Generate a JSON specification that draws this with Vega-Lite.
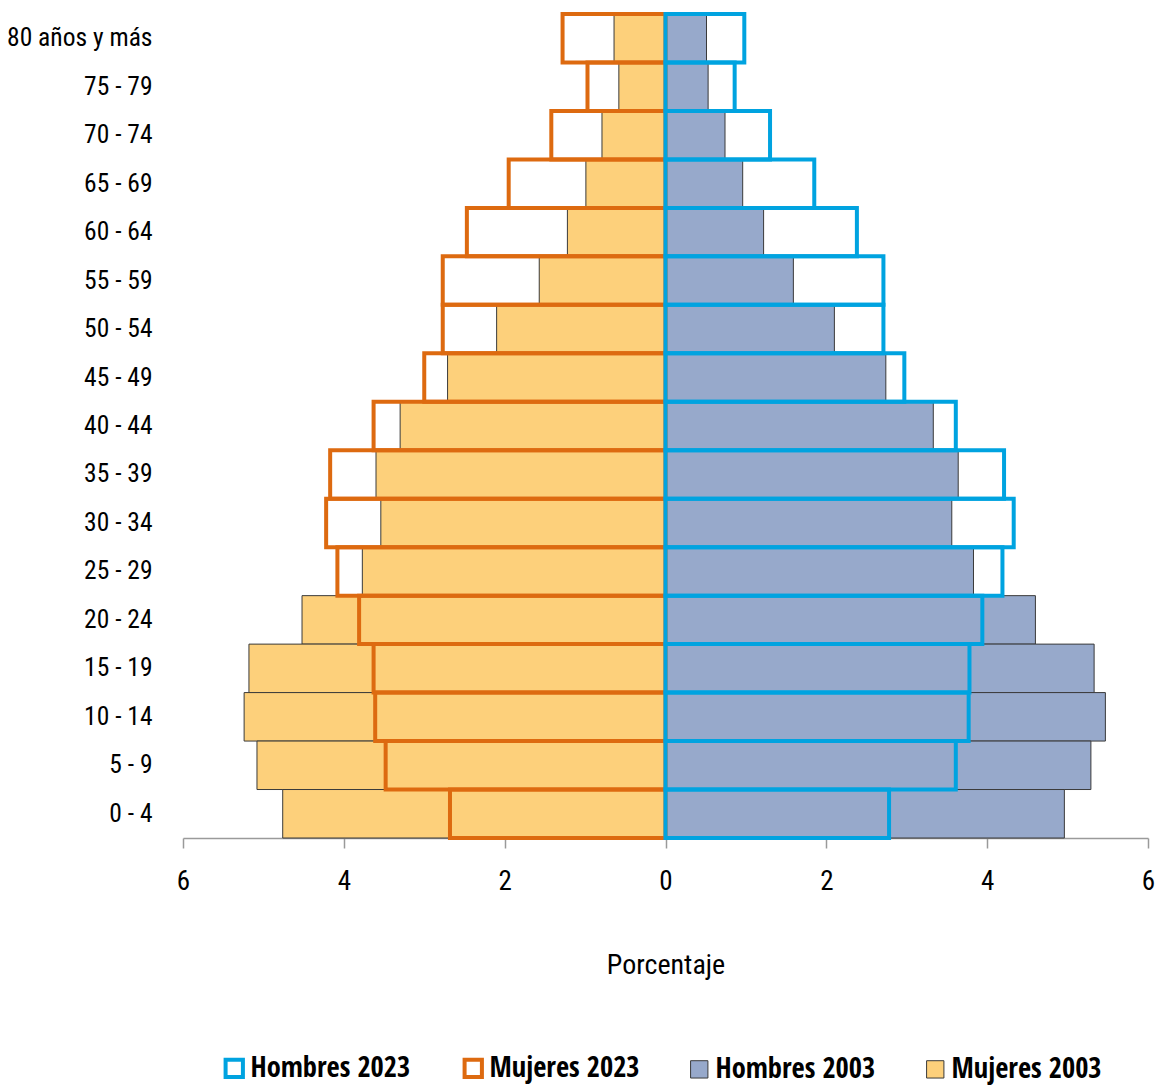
{
  "$schema": "https://vega.github.io/schema/vega-lite/v6.json",
  "width": 965,
  "height": 824,
  "autosize": {"type": "none"},
  "padding": {"left": 183, "top": 14, "right": 12, "bottom": 249},
  "background": "white",
  "config": {
    "view": {"stroke": null},
    "font": "Roboto Condensed, DejaVu Sans Condensed, sans-serif"
  },
  "data": {
    "values": [
      {"edad": "80 años y más", "serie": "Hombres 2003", "valor": 0.51},
      {"edad": "75 - 79", "serie": "Hombres 2003", "valor": 0.53},
      {"edad": "70 - 74", "serie": "Hombres 2003", "valor": 0.74},
      {"edad": "65 - 69", "serie": "Hombres 2003", "valor": 0.96},
      {"edad": "60 - 64", "serie": "Hombres 2003", "valor": 1.22},
      {"edad": "55 - 59", "serie": "Hombres 2003", "valor": 1.59},
      {"edad": "50 - 54", "serie": "Hombres 2003", "valor": 2.10},
      {"edad": "45 - 49", "serie": "Hombres 2003", "valor": 2.74},
      {"edad": "40 - 44", "serie": "Hombres 2003", "valor": 3.33},
      {"edad": "35 - 39", "serie": "Hombres 2003", "valor": 3.64},
      {"edad": "30 - 34", "serie": "Hombres 2003", "valor": 3.56},
      {"edad": "25 - 29", "serie": "Hombres 2003", "valor": 3.83},
      {"edad": "20 - 24", "serie": "Hombres 2003", "valor": 4.60},
      {"edad": "15 - 19", "serie": "Hombres 2003", "valor": 5.33},
      {"edad": "10 - 14", "serie": "Hombres 2003", "valor": 5.47},
      {"edad": "5 - 9", "serie": "Hombres 2003", "valor": 5.29},
      {"edad": "0 - 4", "serie": "Hombres 2003", "valor": 4.96},
      {"edad": "80 años y más", "serie": "Mujeres 2003", "valor": -0.64},
      {"edad": "75 - 79", "serie": "Mujeres 2003", "valor": -0.58},
      {"edad": "70 - 74", "serie": "Mujeres 2003", "valor": -0.79},
      {"edad": "65 - 69", "serie": "Mujeres 2003", "valor": -0.99},
      {"edad": "60 - 64", "serie": "Mujeres 2003", "valor": -1.22},
      {"edad": "55 - 59", "serie": "Mujeres 2003", "valor": -1.57},
      {"edad": "50 - 54", "serie": "Mujeres 2003", "valor": -2.10},
      {"edad": "45 - 49", "serie": "Mujeres 2003", "valor": -2.71},
      {"edad": "40 - 44", "serie": "Mujeres 2003", "valor": -3.30},
      {"edad": "35 - 39", "serie": "Mujeres 2003", "valor": -3.60},
      {"edad": "30 - 34", "serie": "Mujeres 2003", "valor": -3.54},
      {"edad": "25 - 29", "serie": "Mujeres 2003", "valor": -3.77},
      {"edad": "20 - 24", "serie": "Mujeres 2003", "valor": -4.52},
      {"edad": "15 - 19", "serie": "Mujeres 2003", "valor": -5.18},
      {"edad": "10 - 14", "serie": "Mujeres 2003", "valor": -5.24},
      {"edad": "5 - 9", "serie": "Mujeres 2003", "valor": -5.08},
      {"edad": "0 - 4", "serie": "Mujeres 2003", "valor": -4.76},
      {"edad": "80 años y más", "serie": "Mujeres 2023", "valor": -1.28},
      {"edad": "75 - 79", "serie": "Mujeres 2023", "valor": -0.97},
      {"edad": "70 - 74", "serie": "Mujeres 2023", "valor": -1.42},
      {"edad": "65 - 69", "serie": "Mujeres 2023", "valor": -1.95},
      {"edad": "60 - 64", "serie": "Mujeres 2023", "valor": -2.47},
      {"edad": "55 - 59", "serie": "Mujeres 2023", "valor": -2.77},
      {"edad": "50 - 54", "serie": "Mujeres 2023", "valor": -2.77},
      {"edad": "45 - 49", "serie": "Mujeres 2023", "valor": -3.00},
      {"edad": "40 - 44", "serie": "Mujeres 2023", "valor": -3.63},
      {"edad": "35 - 39", "serie": "Mujeres 2023", "valor": -4.17},
      {"edad": "30 - 34", "serie": "Mujeres 2023", "valor": -4.22},
      {"edad": "25 - 29", "serie": "Mujeres 2023", "valor": -4.08},
      {"edad": "20 - 24", "serie": "Mujeres 2023", "valor": -3.81},
      {"edad": "15 - 19", "serie": "Mujeres 2023", "valor": -3.63},
      {"edad": "10 - 14", "serie": "Mujeres 2023", "valor": -3.61},
      {"edad": "5 - 9", "serie": "Mujeres 2023", "valor": -3.48},
      {"edad": "0 - 4", "serie": "Mujeres 2023", "valor": -2.68},
      {"edad": "80 años y más", "serie": "Hombres 2023", "valor": 0.98},
      {"edad": "75 - 79", "serie": "Hombres 2023", "valor": 0.86},
      {"edad": "70 - 74", "serie": "Hombres 2023", "valor": 1.30},
      {"edad": "65 - 69", "serie": "Hombres 2023", "valor": 1.85},
      {"edad": "60 - 64", "serie": "Hombres 2023", "valor": 2.38},
      {"edad": "55 - 59", "serie": "Hombres 2023", "valor": 2.71},
      {"edad": "50 - 54", "serie": "Hombres 2023", "valor": 2.71},
      {"edad": "45 - 49", "serie": "Hombres 2023", "valor": 2.97},
      {"edad": "40 - 44", "serie": "Hombres 2023", "valor": 3.61},
      {"edad": "35 - 39", "serie": "Hombres 2023", "valor": 4.21},
      {"edad": "30 - 34", "serie": "Hombres 2023", "valor": 4.33},
      {"edad": "25 - 29", "serie": "Hombres 2023", "valor": 4.19},
      {"edad": "20 - 24", "serie": "Hombres 2023", "valor": 3.94},
      {"edad": "15 - 19", "serie": "Hombres 2023", "valor": 3.78},
      {"edad": "10 - 14", "serie": "Hombres 2023", "valor": 3.77},
      {"edad": "5 - 9", "serie": "Hombres 2023", "valor": 3.61},
      {"edad": "0 - 4", "serie": "Hombres 2023", "valor": 2.78}
    ]
  },
  "mark": {"type": "bar", "strokeJoin": "miter"},
  "encoding": {
    "y": {
      "field": "edad",
      "type": "nominal",
      "scale": {
        "domain": ["80 años y más", "75 - 79", "70 - 74", "65 - 69", "60 - 64", "55 - 59", "50 - 54", "45 - 49", "40 - 44", "35 - 39", "30 - 34", "25 - 29", "20 - 24", "15 - 19", "10 - 14", "5 - 9", "0 - 4"],
        "paddingInner": 0,
        "paddingOuter": 0
      },
      "axis": {
        "title": null,
        "ticks": false,
        "tickSize": 0,
        "domain": false,
        "labelPadding": 31,
        "labelFontSize": 25.5,
        "labelColor": "#000000"
      }
    },
    "x": {
      "field": "valor",
      "type": "quantitative",
      "scale": {"domain": [-6, 6], "nice": false, "zero": false},
      "axis": {
        "values": [-6, -4, -2, 0, 2, 4, 6],
        "labelExpr": "abs(datum.value)",
        "title": "Porcentaje",
        "grid": false,
        "domainColor": "#9a9a9a",
        "domainWidth": 1.5,
        "tickColor": "#9a9a9a",
        "tickWidth": 1.5,
        "tickSize": 10,
        "labelFontSize": 27,
        "labelColor": "#000000",
        "labelPadding": 20,
        "labelFlush": false,
        "titleFontSize": 28,
        "titleFontWeight": "normal",
        "titleColor": "#000000",
        "titlePadding": 57
      }
    },
    "x2": {"datum": 0},
    "fill": {
      "field": "serie",
      "type": "nominal",
      "scale": {
        "domain": ["Hombres 2023", "Mujeres 2023", "Hombres 2003", "Mujeres 2003"],
        "range": ["transparent", "transparent", "#97A9CB", "#FDD07B"]
      },
      "legend": {
        "title": null,
        "orient": "none",
        "direction": "horizontal",
        "legendX": 37,
        "legendY": 1040,
        "symbolType": "square",
        "symbolSize": 300,
        "labelFontSize": 28.5,
        "labelFont": "Open Sans Condensed, Roboto Condensed",
        "labelFontWeight": "bold",
        "labelColor": "#000000",
        "labelOffset": 2,
        "columnPadding": 45,
        "labelLimit": 400
      }
    },
    "stroke": {
      "field": "serie",
      "type": "nominal",
      "scale": {
        "domain": ["Hombres 2023", "Mujeres 2023", "Hombres 2003", "Mujeres 2003"],
        "range": ["#00A3E0", "#DD6A10", "#3a3a3a", "#3a3a3a"]
      }
    },
    "strokeWidth": {
      "field": "serie",
      "type": "nominal",
      "scale": {
        "type": "ordinal",
        "domain": ["Hombres 2023", "Mujeres 2023", "Hombres 2003", "Mujeres 2003"],
        "range": [4, 4, 1, 1]
      }
    }
  }
}
